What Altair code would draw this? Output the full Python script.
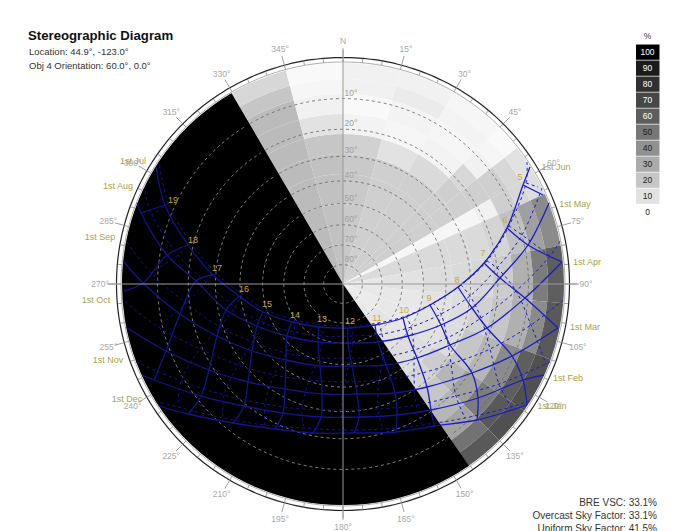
import math
import altair as alt
import pandas as pd

TITLE = "Stereographic Diagram"
INFO = ["Location: 44.9°, -123.0°", "Obj 4 Orientation: 60.0°, 0.0°"]
FACTORS = ["BRE VSC: 33.1%", "Overcast Sky Factor: 33.1%", "Uniform Sky Factor: 41.5%"]
LEGEND_VALUES = [100, 90, 80, 70, 60, 50, 40, 30, 20, 10]
ALT_RINGS = [10, 20, 30, 40, 50, 60, 70, 80]

# sky-component shading, % (sector az edges, ring radius edges)
SECTOR_EDGES = [325, 345, 360, 375, 390, 405, 412, 420, 426, 440, 455, 470, 485, 495, 506]
RING_EDGES = [0, 40, 80, 110, 130, 150, 170, 190, 205, 221]
S1 = [24, 24, 24, 24, 24, 24, 24, 20, 14]
S2 = [22, 22, 22, 22, 20, 10, 5, 3, 2]
S3 = [19, 19, 19, 19, 16, 4, 2, 5, 5]
S4 = [17, 17, 17, 17, 10, 3, 4, 7, 5]
S5 = [17, 17, 17, 17, 13, 4, 3, 4, 3]
S6 = [17, 17, 17, 17, 17, 14, 5, 3, 2]
S7 = [17, 17, 17, 17, 17, 17, 17, 14, 10]
S8 = [3, 3, 3, 3, 3, 5, 17, 14, 12]
S9 = [13, 13, 13, 13, 13, 15, 22, 34, 42]
S10 = [8, 10, 12, 13, 14, 18, 28, 48, 60]
S11 = [8, 8, 10, 12, 16, 20, 28, 42, 62]
S12 = [7, 8, 10, 12, 20, 26, 42, 60, 66]
S13 = [7, 9, 12, 18, 26, 34, 48, 62, 66]
S14 = [8, 10, 12, 15, 20, 26, 33, 52, 62]
SECTORS = [S1, S2, S3, S4, S5, S6, S7, S8, S9, S10, S11, S12, S13, S14]
OBSTRUCTED_FROM, OBSTRUCTED_TO = 145.3, 329.7

# sun path nodes (hour, x, y) on the diagram; hour 0 = where the path meets the horizon
JUN = [(0,530,167),(5,523,185),(6,507,228),(7,484,263),(8,458,287),(9,430,305),(10,403,318),(11,375,325),(12,348,328),(13,319,327),(14,292,322),(15,263,312),(16,239,296),(17,213,275),(18,188,245),(19,165,205),(0,156,167)]
MAY = [(0,549,203),(6,528,245),(7,500,278),(8,472,308),(9,441,325),(10,408,336),(11,378,342),(12,348,343),(13,318,342),(14,287,336),(15,257,326),(16,226,310),(17,196,281),(18,167,255),(19,141,213),(0,137,203)]
APR = [(6,562,262),(7,525,298),(8,487,328),(9,450,345),(10,417,358),(11,386,365),(12,352,366),(13,320,366),(14,286,360),(15,252,351),(16,217,336),(17,180,314),(18,143,283),(0,123,261)]
MAR = [(7,558,328),(8,512,356),(9,472,373),(10,427,387),(11,395,393),(12,357,394),(13,322,394),(14,285,389),(15,248,382),(16,209,370),(17,166,351),(0,126,327)]
FEB = [(0,544,375),(8,523,380),(9,478,398),(10,431,410),(11,397,415),(12,359,417),(13,321,417),(14,283,413),(15,244,406),(16,201,396),(17,154,380),(0,142,375)]
JAN = [(8,527,405),(9,477,420),(10,434,426),(11,396,432),(12,354,433),(13,313,433),(14,275,429),(15,233,423),(16,188,414),(0,159,406)]
JUL = [(0,527,162),(5,526,183),(6,509,226),(7,487,261),(8,461,285),(9,433,303),(10,406,316),(11,378,323),(12,351,326),(13,322,325),(14,295,320),(15,266,310),(16,242,294),(17,216,273),(18,191,243),(19,168,203),(0,159,162)]
AUG = [(0,542,188),(6,522,235),(7,497,268),(8,470,296),(9,441,314),(10,411,327),(11,382,334),(12,353,336),(13,323,336),(14,294,332),(15,264,323),(16,235,307),(17,206,282),(18,178,255),(19,152,215),(0,144,188)]
SEP = [(0,560,241),(6,550,256),(7,516,291),(8,481,318),(9,447,338),(10,414,350),(11,383,357),(12,350,358),(13,319,358),(14,286,353),(15,253,342),(16,220,327),(17,186,303),(18,151,273),(0,126,241)]
OCT = [(0,563,300),(7,531,325),(8,490,349),(9,451,364),(10,414,375),(11,379,380),(12,345,382),(13,309,380),(14,274,375),(15,238,365),(16,200,349),(17,158,327),(0,123,300)]
NOV = [(0,550,362),(7,546,364),(8,499,384),(9,456,396),(10,416,405),(11,378,409),(12,341,410),(13,302,409),(14,265,404),(15,224,395),(16,181,381),(0,136,362)]
DEC = [(0,530,401),(8,511,407),(9,465,418),(10,422,425),(11,383,429),(12,344,430),(13,304,428),(14,265,425),(15,223,418),(16,178,407),(0,156,401)]
SOLID_MONTHS = [JUN, MAY, APR, MAR, FEB, JAN]
DASHED_MONTHS = [JUL, AUG, SEP, OCT, NOV, DEC]
SOLID_HOUR_ENDS = [(5,543,195),(18,124,291)]
DASHED_HOUR_ENDS = [(5,538,187)]

HOUR_LABELS = [(5,520,177),(6,505,220),(7,483,253),(8,457,280),(9,429,298),(10,404,310),(11,377,318),(12,350,321),(13,322,319),(14,295,315),(15,267,304),(16,244,289),(17,217,268),(18,193,240),(19,173,200)]
MONTH_LABELS = [("1st Jun",556,167),("1st May",575,204),("1st Apr",587,262),("1st Mar",585,327),("1st Feb",568,378),("1st Jan",552,406),
                ("1st Jul",133,161),("1st Aug",118,186),("1st Sep",100,237),("1st Oct",96,300),("1st Nov",108,360),("1st Dec",127,399)]
AZ_MAJOR = list(range(0, 360, 15))

CX, CY, R = 343, 284, 221
xs = alt.Scale(domain=[8, 677], range=[0, 669], nice=False, zero=False)
ys = alt.Scale(domain=[8, 531], range=[0, 523], nice=False, zero=False)
X = alt.X("x:Q", scale=xs, axis=None)
Y = alt.Y("y:Q", scale=ys, axis=None)
X2 = alt.X2("x2:Q")
Y2 = alt.Y2("y2:Q")
FONT = "Liberation Sans"
BLUE = "#1c1cc8"


def polar(az, r):
    a = math.radians(az)
    return CX + r * math.sin(a), CY - r * math.cos(a)


def ring(r, start, stop, step, name):
    rows = []
    az = start
    i = 0
    while az <= stop:
        px, py = polar(az, r)
        rows.append({"x": px, "y": py, "c": name, "i": i})
        az += step
        i += 1
    return rows


def line_layer(rows, color, width, dash=None):
    kw = dict(color=color, strokeWidth=width, interpolate="catmull-rom")
    if dash:
        kw["strokeDash"] = dash
    return alt.Chart(pd.DataFrame(rows)).mark_line(**kw).encode(
        x=X, y=Y, detail="c:N", order="i:Q")


def text_layer(rows, color, size, align="center", weight="normal"):
    return alt.Chart(pd.DataFrame(rows)).mark_text(
        color=color, fontSize=size, font=FONT, align=align, baseline="middle", fontWeight=weight
    ).encode(x=X, y=Y, text="t:N")


theta_s = alt.Scale(domain=[0, 720], range=[0, 4 * math.pi])
rad_s = alt.Scale(domain=[0, R], range=[0, R])
color_s = alt.Scale(domain=[0, 100], range=["#ffffff", "#000000"])


def arc_layer(rows, **mark):
    return alt.Chart(pd.DataFrame(rows)).mark_arc(**mark).encode(
        x=alt.X("cx:Q", scale=xs, axis=None),
        y=alt.Y("cy:Q", scale=ys, axis=None),
        theta=alt.Theta("a0:Q", scale=theta_s, stack=None),
        theta2="a1:Q",
        radius=alt.Radius("r0:Q", scale=rad_s),
        radius2="r1:Q",
        color=alt.Color("v:Q", scale=color_s, legend=None),
    )


# shading cells
cells = []
for k, vals in enumerate(SECTORS):
    for j, v in enumerate(vals):
        a0, a1 = SECTOR_EDGES[k], SECTOR_EDGES[k + 1]
        cells.append({"a0": a0, "a1": a1, "r0": RING_EDGES[j], "r1": RING_EDGES[j + 1], "v": v, "cx": CX, "cy": CY})
black = [{"a0": OBSTRUCTED_FROM, "a1": OBSTRUCTED_TO, "r0": 0, "r1": R, "v": 100, "cx": CX, "cy": CY}]
shade = arc_layer(cells)
black_base = arc_layer(black)
black_veil = arc_layer(black, opacity=0.3)

# altitude rings
dark_rows, light_rows = [], []
for a in ALT_RINGS:
    r = R * math.tan(math.radians((90 - a) / 2))
    dark_rows += ring(r, -30, 145, 3, f"d{a}")
    light_rows += ring(r, 145, 330, 3, f"l{a}")
rings_dark = line_layer(dark_rows, "#666666", 0.8, [3, 3])
rings_light = line_layer(light_rows, "#e2e2d0", 0.8, [3, 3])
outer = line_layer(ring(226.5, 0, 360, 2, "o"), "#222222", 1.2)
inner = line_layer(ring(222, 0, 360, 2, "n"), "#999999", 0.8)

# ticks
ticks = []
for az in range(0, 360, 5):
    r2 = 236 if az % 15 == 0 else 226
    x0, y0 = polar(az, 222)
    x1, y1 = polar(az, r2)
    ticks.append({"x": x0, "y": y0, "x2": x1, "y2": y1})
tick_layer = alt.Chart(pd.DataFrame(ticks)).mark_rule(color="#888888", strokeWidth=0.8).encode(x=X, y=Y, x2=X2, y2=Y2)

cross = alt.Chart(pd.DataFrame([
    {"x": CX, "y": 50, "x2": CX, "y2": 518},
    {"x": 108, "y": CY, "x2": 577, "y2": CY},
])).mark_rule(color="#9a9a9a", strokeWidth=1).encode(x=X, y=Y, x2=X2, y2=Y2)


# sun paths
def date_rows(months, tag):
    rows = []
    for m, nodes in enumerate(months):
        for i, (_, px, py) in enumerate(nodes):
            rows.append({"x": px, "y": py, "c": f"{tag}{m}", "i": i})
    return rows


def hour_rows(months, ends, tag):
    rows = []
    for h in range(5, 20):
        i = 0
        for nodes in months:
            for hh, px, py in nodes:
                if hh == h:
                    rows.append({"x": px, "y": py, "c": f"{tag}{h}", "i": i})
                    i += 1
        for hh, px, py in ends:
            if hh == h:
                rows.append({"x": px, "y": py, "c": f"{tag}{h}", "i": i})
                i += 1
    return rows


paths = [
    line_layer(date_rows(DASHED_MONTHS, "dd"), BLUE, 1, [3, 3]),
    line_layer(hour_rows(DASHED_MONTHS, DASHED_HOUR_ENDS, "dh"), BLUE, 1, [3, 3]),
    line_layer(date_rows(SOLID_MONTHS, "sd"), BLUE, 1.3),
    line_layer(hour_rows(SOLID_MONTHS, SOLID_HOUR_ENDS, "sh"), BLUE, 1.3),
]

# labels
az_rows = []
for az in AZ_MAJOR:
    px, py = polar(az, 243)
    az_rows.append({"x": px, "y": py, "t": "N" if az == 0 else f"{az}°"})
az_text = text_layer(az_rows, "#a8a8a8", 8.5)
alt_rows = []
for a in ALT_RINGS:
    r = R * math.tan(math.radians((90 - a) / 2))
    alt_rows.append({"x": 351, "y": CY - r - 6, "t": f"{a}°"})
alt_text = text_layer(alt_rows, "#a0a0a0", 8.5)
hour_text = text_layer([{"x": a, "y": b, "t": str(h)} for h, a, b in HOUR_LABELS], "#c9a93e", 9)
month_text = text_layer([{"x": a, "y": b, "t": t} for t, a, b in MONTH_LABELS], "#aaa24a", 9)

# header / footer
title = text_layer([{"x": 28, "y": 36, "t": TITLE}], "#111111", 13.2, "left", "bold")
info = text_layer([{"x": 29, "y": 52, "t": INFO[0]}, {"x": 29, "y": 66, "t": INFO[1]}], "#333333", 9.5, "left")
foot = text_layer([{"x": 657, "y": 503 + 13 * i, "t": t} for i, t in enumerate(FACTORS)], "#333333", 10, "right")

# legend
leg = []
for i, v in enumerate(LEGEND_VALUES):
    leg.append({"x": 636, "x2": 659.5, "y": 44.5 + 16 * i, "y2": 59.8 + 16 * i, "v": v})
leg_rect = alt.Chart(pd.DataFrame(leg)).mark_rect().encode(
    x=X, x2=X2, y=Y, y2=Y2,
    color=alt.Color("v:Q", scale=color_s, legend=None))
leg_text = []
for i, v in enumerate(LEGEND_VALUES + [0]):
    leg_text.append({"x": 647.5, "y": 52 + 16 * i, "t": str(v), "w": "#ffffff" if v >= 60 else "#222222"})
leg_light = text_layer([r for r in leg_text if r["w"] == "#ffffff"], "#ffffff", 8.5)
leg_dark = text_layer([r for r in leg_text if r["w"] != "#ffffff"], "#222222", 8.5)
pct = text_layer([{"x": 647.5, "y": 36, "t": "%"}], "#333333", 8.5)

chart = alt.layer(
    shade, black_base, rings_dark, rings_light, inner, outer, tick_layer,
    *paths, black_veil, cross,
    az_text, alt_text, hour_text, month_text, title, info, foot,
    leg_rect, leg_light, leg_dark, pct,
).resolve_scale(color="shared").properties(
    width=669, height=523, padding=0,
    autosize=alt.AutoSizeParams(type="none"),
    background="white",
).configure_view(stroke=None)

chart.save("out.html", embed_options={"renderer": "svg", "actions": False})
